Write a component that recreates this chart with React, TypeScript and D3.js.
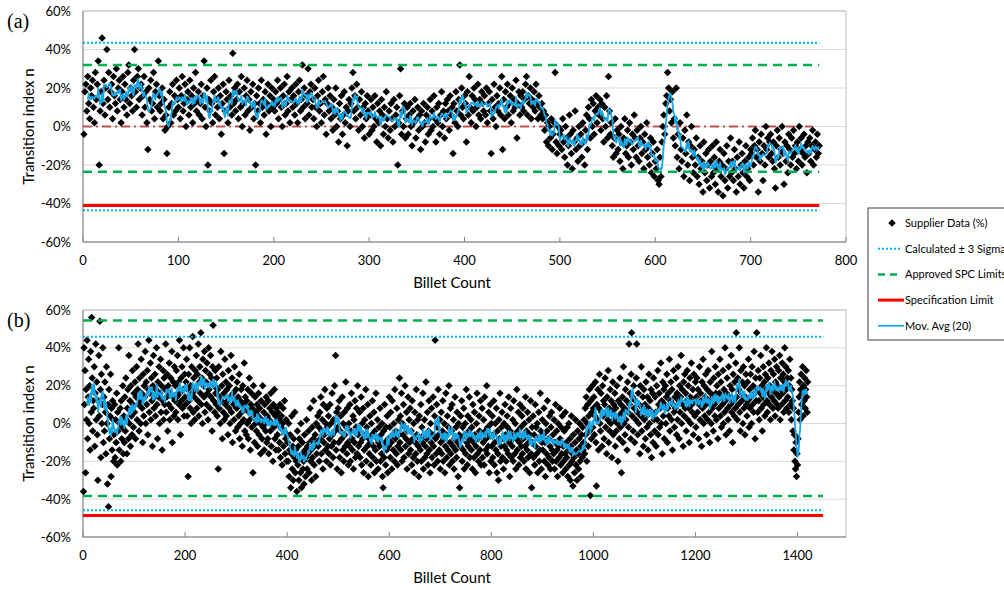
import React from "react";
import * as d3 from "d3";

// transition index n (%) per billet (estimated where dots overlap)
const aSupplier = [
  -4, 18, 22, 8, 26, 12, 4, 20, 16, 24, 10, 2, 28, 14, 22, 34, -20, 8, 18, 46,
  12, 24, 6, 20, 40, 14, 28, 10, 18, 22, 4, 26, 16, 12, 30, 8, 20, 24, 14, 2,
  18, 26, 10, 22, 14, 6, 28, 32, 12, 20, 16, 8, 24, 40, 18, 10, 26, 30, 14, 20,
  22, 6, 16, 26, 10, 18, 2, -12, 20, 14, 24, 8, 12, 28, 4, 18, 22, 10, 34, 16,
  8, 12, 20, 4, 14, -2, 6, -14, 0, 10, 18, 2, 12, 22, 6, 16, 8, 24, 14, 10,
  20, 4, 16, 26, 8, 12, 22, 0, 14, 18, 6, 24, 10, 16, 2, 20, 12, 28, 8, 14,
  18, 6, 12, 22, 4, 16, 34, 10, 0, 20, -20, 14, 8, 24, 12, 2, 18, 26, 6, 14,
  10, 20, 4, 16, -4, 12, 22, -14, 8, 18, 14, 2, 24, 10, 16, 6, 38, 12, 20, 8,
  14, 22, 4, 18, 10, 26, 0, 12, 20, 6, 16, 24, 8, 14, -2, 18, 10, 22, 4, 12,
  -20, 16, 8, 20, 12, 2, 24, 10, 14, 6, 18, -4, 12, 22, 8, 16, 0, 20, 10, 14,
  8, 18, 12, 24, 4, 14, 20, 10, 0, 16, 22, 6, 12, 26, 8, 18, 2, 14, 20, 10,
  16, 6, 22, 12, 2, 18, 24, 8, 14, 32, 10, 20, 4, 16, 12, 30, 6, 18, 22, 10,
  14, 4, 20, 10, 0, 16, 24, 8, 12, 2, 18, 26, 6, 14, -4, 12, 20, 8, 16, 4,
  10, -2, 14, 6, 20, 0, 8, -8, 12, 4, 16, -4, 6, 18, 2, 10, -10, 8, 14, 0,
  12, 20, 28, 8, 16, 4, 22, 10, -2, 14, 6, 18, 0, 10, -6, 12, 4, 16, 8, -4,
  6, 14, -2, 10, 0, 16, 4, -8, 12, 2, 8, -10, 14, 6, -4, 10, 0, 18, 4, -6,
  8, -2, 12, 4, -8, 14, 0, 6, 10, -20, 2, 16, 30, -4, 8, 0, 12, -6, 4, 10,
  -4, 6, 12, 0, -10, 8, 2, 14, -6, 4, 10, -2, 6, -12, 8, 0, 12, 2, -8, 6,
  10, -4, 4, 14, -2, 8, 0, 16, 4, -8, 10, 2, 12, -4, 6, 18, 0, 8, -6, 12,
  4, 14, 8, -2, 16, 6, 10, -14, 12, 2, 18, 8, 0, 14, 32, 6, 20, 10, 4, 16,
  12, -8, 18, 6, 26, 10, 2, 16, 8, 20, 14, 0, 10, 22, 6, 14, 4, 18, 12, 8,
  16, 6, 20, 2, 12, 18, 8, -14, 14, 4, 22, 10, 0, 16, 8, 12, 20, 6, 26, -12,
  14, 4, 18, 10, 22, 6, 12, 16, 2, 20, 8, 14, 10, 24, -6, 12, 18, 6, 16, 10,
  18, 8, 14, 22, 26, 6, 16, 12, 20, 4, 14, 10, 18, 8, 22, 12, 4, 16, 10, 6,
  12, 4, 8, -2, 6, -8, 2, -10, 0, -6, 4, -12, -4, 2, 28, -8, -14, 0, -10, -4,
  -2, -12, 4, -8, -16, 0, -6, -20, -10, 6, -4, -14, -22, -2, -8, 8, -12, -6, -18, 0,
  -10, -4, -16, 2, -8, -20, -2, 6, -12, 10, 4, -6, 14, 0, 12, -4, 8, 16, 2, 10,
  6, 14, -2, 12, 4, -8, 10, 0, 16, -6, 26, 8, -4, 2, -10, -16, -6, 4, -14, -2,
  -12, -4, -18, 0, -8, -22, -6, 4, -14, -10, -2, -16, 2, -8, -20, -4, -12, 6, -6, -16,
  -2, -10, -18, -6, 0, -14, -8, -22, -4, -12, 2, -16, -10, -20, -6, -24, -14, -8, -26, -18,
  -22, -12, -28, -30, -16, -26, -8, 0, 6, -4, 12, 16, 28, 20, 8, 14, 2, 18, -6, 4,
  -10, 20, -16, -4, -22, 2, -12, -18, -6, -26, -2, -14, 6, -20, -8, -28, -10, 0, -16, -24,
  -12, -20, -6, -26, -16, -30, -10, -22, -18, -34, -8, -24, -14, -28, -20, -12, -32, -18, -26, -10,
  -24, -16, -30, -8, -22, -34, -18, -12, -26, -20, -36, -14, -28, -22, -10, -32, -18, -26, -6, -24,
  -18, -28, -12, -22, -34, -16, -26, -8, -30, -20, -14, -24, -32, -18, -10, -26, -22, -16, -28, -12,
  -14, -6, -20, -10, -2, -16, -12, -34, -8, -18, -4, -14, -28, -10, -20, 0, -12, -6, -16, -8,
  -4, -14, -18, -8, -22, -32, -10, -2, -16, -6, -20, -12, 0, -14, -30, -8, -18, -10, -24, -4,
  -12, -20, -6, -16, -2, -14, -10, -22, -8, -18, 0, -12, -6, -20, -14, -4, -16, -10, -24, -8,
  -14, -6, -18, -10, -2, -20, -12, -8, -16, -4, -14, -10,
];

const bSupplier = [
  -36, 40, 10, 28, -26, 18, 2, 44, -8, 14, 34, 0, 20, -14, 38, 6, 56, 24, -4, 12,
  8, 30, -12, 16, 42, 2, 22, -6, -30, 12, 36, 4, 54, 18, -18, 26, 0, 10, 40, -10,
  14, -4, 22, 6, -16, 30, 0, -32, 10, -44, 18, -8, 4, 26, -28, 8, -14, 12, 2, -20,
  -6, 10, -18, 2, -10, 16, -22, 6, -4, 40, -14, 0, 8, -20, 12, -8, -2, 20, -16, 4,
  -10, 14, -4, 24, 2, -16, 8, 18, -8, 36, 0, 12, -12, 20, 4, -6, 28, 10, -2, 16,
  6, 22, -8, 14, 30, 2, 18, 42, 10, -4, 24, 12, 0, 34, 16, 8, -10, 26, 4, 20,
  14, 38, 0, 22, 10, 28, -6, 18, 44, 6, 16, 32, 2, 24, 12, -12, 20, 36, 8, 14,
  26, 4, 18, 40, 10, -8, 22, 14, 30, 0, 16, 34, 6, 20, -14, 12, 28, 2, 24, 10,
  18, 42, 6, 14, 26, -4, 20, 10, 32, 2, 16, 24, 8, 38, -10, 14, 22, 4, 30, 12,
  20, 6, 28, 14, 36, 2, 22, 10, 44, 16, -6, 24, 12, 30, 8, 18, 40, 4, 26, 14,
  10, 22, 34, 4, 18, -28, 26, 12, 40, 8, 20, 0, 30, 16, 46, 6, 24, 14, 2, 28,
  18, 36, 8, 26, 12, 42, 4, 22, 30, 16, 48, 10, 24, 0, 34, 20, 14, 38, 6, 28,
  22, 10, 32, 16, 2, 40, 18, 26, 8, 36, 14, 24, -4, 30, 52, 12, 20, 6, 28, 16,
  10, 24, 4, 18, -24, 30, 8, 14, 0, 38, 12, 20, -8, 26, 6, 16, 2, 34, 10, 22,
  4, 18, 12, -6, 28, 8, 20, 0, 14, 36, 6, 24, -10, 16, 10, 2, 30, 12, -4, 18,
  8, 22, -2, 14, 4, 26, -8, 12, 0, 18, 6, -12, 20, 10, 2, 32, -4, 14, 8, -6,
  12, 0, 18, -8, 6, 24, 2, -14, 10, 16, -2, 8, -26, 20, 4, -10, 14, 0, 6, -4,
  10, -12, 4, 16, -6, 8, 0, -16, 12, 2, -8, 20, -2, 6, -14, 10, 0, -4, 14, -10,
  4, -8, 12, -16, 2, 8, -4, 16, -12, 0, 6, -20, 10, -2, 18, -8, 4, -14, 8, 0,
  -6, 6, -14, 2, -10, 10, -18, -2, 4, -22, 0, 8, -12, -4, 12, -16, -8, 2, -20, -6,
  -10, -20, 0, -28, -14, -6, -34, -16, 4, -24, -12, -30, -8, -18, 6, -26, -14, -20, -36, -4,
  -22, -12, -30, -8, -18, -26, 0, -34, -16, -10, -24, -20, -32, -6, -14, -28, -18, 2, -24, -12,
  -16, -4, -26, -10, 8, -20, -14, -30, -2, -18, -8, 12, -22, -12, -6, -28, 0, -16, -10, 4,
  -12, -2, -20, 6, -8, 14, -16, -4, 2, -24, 10, -10, -6, 18, -14, 0, -20, 8, -2, -12,
  4, -16, -8, 10, -22, 0, -12, 16, -6, -18, 2, -10, 20, -4, 36, -14, 6, -24, -2, 8,
  -10, 12, -18, -4, 4, -26, -8, 14, -14, 0, -20, 6, -6, -12, 22, -2, -16, 8, -10, -22,
  0, -12, 10, -20, -4, 16, -8, -14, 4, -24, 2, -10, 12, -18, -2, 8, -16, 20, -6, -12,
  -4, 6, -18, -10, 14, -22, 0, -8, 8, -26, -14, 2, -6, 18, -20, -2, -12, 10, -28, -8,
  -16, 4, -10, -22, 0, -6, 12, -18, -12, 6, -26, -4, -14, 16, -20, -8, 2, -24, -10, -2,
  -12, 8, -20, -6, -16, 0, -28, -34, -4, -18, 10, -10, -22, -2, -14, 4, -26, -8, -12, 14,
  -2, -18, 6, -10, -24, 12, -6, -14, 0, -20, 18, -8, -4, -16, 8, -22, -12, 2, -6, 24,
  -10, 4, -14, 16, -20, 0, -6, 10, -18, -2, 20, -12, -8, 6, -24, -4, 14, -16, 2, -10,
  8, -14, -4, -22, 12, -8, -18, 0, -26, 6, -10, -16, 18, -6, -20, 2, -12, -28, 4, -8,
  -14, 10, -20, -2, -10, 16, -24, -6, 2, -18, -12, 22, -8, -16, 6, -22, -4, 12, -14, -26,
  0, -10, 8, -18, -6, 14, -12, -22, 4, 44, -8, -16, 10, -2, -20, 18, -6, -14, 2, -24,
  -10, 6, -16, -4, 12, -20, -8, 0, -26, -12, 16, -6, -18, 4, -14, -2, 20, -22, -10, 8,
  -16, -4, 10, -20, -12, 2, -24, -8, 14, -14, -2, -18, 6, -10, -28, 0, -6, -34, -12, 4,
  -8, 12, -20, -2, -14, 8, -24, -6, 0, -16, 18, -10, -22, 4, -12, -4, 14, -18, -8, 2,
  -14, -2, -24, 10, -10, -18, 6, -6, -26, -12, 0, 16, -16, -8, -20, 4, -4, -14, 12, -22,
  -6, 8, -18, -10, 2, -22, 14, -4, -14, -8, 20, -16, -2, -12, 6, -26, -6, 10, -20, 0,
  -12, 4, -18, -6, 12, -22, -10, 0, -14, 8, -26, -4, -16, -30, 2, -8, 16, -20, -12, -2,
  6, -18, -8, -24, 0, -12, 10, -6, -20, -14, 4, -2, -16, 14, -10, -28, -4, 8, -18, -8,
  -12, 2, -20, 12, -6, -16, 0, -24, -8, 18, -14, -4, 6, -22, -10, 10, -18, -2, -12, 4,
  -16, 8, -8, -20, 0, -12, 14, -24, -4, -14, 6, -18, -10, 2, -26, -6, 12, -16, -34, -2,
  -10, 4, -18, -6, -22, 10, -12, -2, -16, 0, -26, -8, 6, -20, -14, 16, -4, -24, -10, 2,
  -14, -6, 8, -20, -10, -28, 0, -16, -4, 12, -22, -8, -18, 4, -12, -24, -2, 6, -14, -20,
  -6, -16, 2, -24, -10, 10, -20, -4, -14, -28, 0, -12, -18, 8, -8, -22, -2, -16, 4, -26,
  -12, -20, -4, -16, 6, -24, -10, -18, -2, -28, -14, 0, -22, -8, -30, -12, 4, -20, -16, -33,
  -6, -18, -26, -10, 2, -22, -14, -30, -4, -16, -24, -8, 0, -20, -12, -28, -6, -18, -2, -14,
  -10, 2, -16, 8, -6, 14, -20, 0, 10, -12, 4, 18, -4, -38, 12, -8, 6, 20, -2, 8,
  14, -6, 4, 22, -10, -33, 10, 2, 18, -14, 8, 26, 0, -4, 16, 6, -12, 20, 4, 12,
  -8, 10, 24, -2, 6, -16, 14, 2, 28, -10, 8, -4, 18, 0, 12, -18, 6, 22, -6, 10,
  2, 16, -12, 8, -4, 20, 0, -20, 12, 4, -8, 24, -2, 10, -26, 6, 14, -10, 30, 0,
  8, -6, 18, 2, 12, -14, 22, 6, -2, 42, 10, 16, -8, 26, 48, 4, 14, -4, 20, 8,
  -10, 12, 2, 24, 42, 6, -6, 16, 0, 10, -16, 20, 4, 30, -4, 8, 14, -12, 18, 2,
  10, -8, 22, 4, -2, 14, -14, 8, 26, 0, 12, -6, 18, -18, 6, 16, -10, 24, 2, -4,
  14, 6, -12, 20, 2, 28, -6, 10, 16, -2, 8, 32, 0, 12, -16, 22, 4, 18, -8, 10,
  20, 0, 14, 26, -10, 8, 16, 4, 34, -4, 12, 22, 2, 18, -14, 10, 28, 6, -2, 14,
  8, 24, -6, 16, 2, 30, 12, -8, 20, 6, 14, 36, 0, 18, 10, -12, 22, 4, 26, 8,
  16, -4, 12, 28, 2, 20, 8, -10, 24, 14, 0, 32, 10, 6, 18, -6, 26, 12, 4, 22,
  -2, 14, 24, 6, 18, -8, 10, 30, 2, 16, 12, -12, 22, 8, 34, 0, 20, 4, 14, 26,
  10, -6, 18, 2, 28, 12, 6, -10, 22, 16, 0, 38, 8, 14, -4, 24, 10, 4, 30, 16,
  2, 20, 12, -8, 26, 8, 16, 34, 4, 22, -2, 14, 10, 28, 0, 18, 6, 40, 12, -6,
  16, 24, 8, 2, 30, 14, -4, 20, 10, 36, 6, 18, -10, 26, 12, 4, 22, 8, 32, 48,
  14, 2, 24, 10, 18, 40, 6, -4, 28, 16, 12, 22, 0, 30, 8, 20, -6, 14, 26, 10,
  4, 22, 12, 34, -2, 18, 8, 26, 14, 0, 30, 10, 20, 6, 38, 16, -8, 24, 12, 48,
  18, 6, 28, 12, 2, 24, 16, 36, 8, 20, -4, 14, 30, 10, 22, 4, 26, 18, 40, 12,
  6, 24, 16, 32, 10, 20, 2, 28, 14, 38, 18, 8, 26, 12, 34, 4, 22, 16, 30, 10,
  20, 8, 28, 14, 36, 2, 24, 18, 10, 32, 16, 26, 6, 22, 40, 12, 30, 18, 8, 24,
  14, 28, 6, 20, 34, 10, 24, 2, 18, 12, -4, 8, -14, -6, -20, -24, -10, -28, -16, -22,
  -8, 6, 14, 22, 2, 18, 26, 10, 16, 30, 4, 20, 12, 24, 8, 18, 28, 14, 6, 22,
];

// control lines (%)
const aSigma = [43.5, -43.5];
const aSpc = [32, -23.5];
const aSpec = [-41];
const aMean = [0];
const bSigma = [45.8, -45.8];
const bSpc = [54.5, -38.3];
const bSpec = [-48.6];

const yTicks = [60, 40, 20, 0, -20, -40, -60];
const aXTicks = [0, 100, 200, 300, 400, 500, 600, 700, 800];
const bXTicks = [0, 200, 400, 600, 800, 1000, 1200, 1400];

const legendItems = [
  "Supplier Data (%)",
  "Calculated \u00b1 3 Sigma",
  "Approved SPC Limits",
  "Specification Limit",
  "Mov. Avg (20)",
];

const FONT = "Lato, 'Open Sans', sans-serif";
const BLUE = "#1AA6E4";
const GREEN = "#00B050";
const RED = "#FF0000";

const diamond = d3.symbol().type(d3.symbolSquare).size(28)() as string;

// trailing moving average
function movAvg(v: number[], w: number) {
  return v.map((_, i) => (i < w - 1 ? null : (d3.mean(v.slice(i - w + 1, i + 1)) as number)));
}

type PanelProps = {
  label: string;
  top: number;
  bottom: number;
  xMax: number;
  xTicks: number[];
  values: number[];
  win: number;
  sigma: number[];
  spc: number[];
  spec: number[];
  mean?: number[];
  lineEnd: number;
  meanEnd?: number;
};

const Panel = ({ label, top, bottom, xMax, xTicks, values, win, sigma, spc, spec, mean, lineEnd, meanEnd }: PanelProps) => {
  const left = 83;
  const right = 846;
  const x = d3.scaleLinear().domain([0, xMax]).range([left, right]);
  const y = d3.scaleLinear().domain([-60, 60]).range([bottom, top]);

  const ma = movAvg(values, win);
  const maLine = d3
    .line<number | null>()
    .defined((d) => d !== null)
    .x((_, i) => x(i + 1))
    .y((d) => y(d as number));

  const hline = (v: number, end: number, stroke: string, width: number, dash?: string) => (
    <line x1={x(0)} x2={x(end)} y1={y(v)} y2={y(v)} stroke={stroke} strokeWidth={width} strokeDasharray={dash} />
  );

  return (
    <g>
      <text x={7} y={top + 17} fontFamily="'Liberation Serif', 'Times New Roman', serif" fontSize={20}>
        {label}
      </text>
      {/* grid */}
      {yTicks.map((t) => (
        <line key={t} x1={left} x2={right} y1={y(t)} y2={y(t)} stroke="#D9D9D9" strokeWidth={1} />
      ))}
      <rect x={left} y={top} width={right - left} height={bottom - top} fill="none" stroke="#BFBFBF" />
      <line x1={left} x2={left} y1={top} y2={bottom} stroke="#868686" />
      <line x1={left} x2={right} y1={bottom} y2={bottom} stroke="#868686" />
      {xTicks.map((t) => (
        <line key={t} x1={x(t)} x2={x(t)} y1={bottom} y2={bottom - 5} stroke="#868686" />
      ))}
      {yTicks.map((t) => (
        <text key={t} x={71} y={y(t) + 4.5} textAnchor="end" fontFamily={FONT} fontSize={13} fill="#000">
          {`${t}%`}
        </text>
      ))}
      {xTicks.map((t) => (
        <text key={t} x={x(t)} y={bottom + 23} textAnchor="middle" fontFamily={FONT} fontSize={13}>
          {t}
        </text>
      ))}
      <text x={452} y={bottom + 46} textAnchor="middle" fontFamily={FONT} fontSize={15}>
        Billet Count
      </text>
      <text
        transform={`translate(34,${(top + bottom) / 2}) rotate(-90)`}
        textAnchor="middle"
        fontFamily={FONT}
        fontSize={15}
      >
        Transition index n
      </text>

      {mean && mean.map((m, i) => <g key={i}>{hline(m, meanEnd ?? lineEnd, "#C0504D", 2, "9,4,2,4")}</g>)}

      {values.map((v, i) => (
        <path key={i} d={diamond} transform={`translate(${x(i + 1)},${y(v)}) rotate(45)`} fill="#000" />
      ))}

      {sigma.map((s, i) => <g key={i}>{hline(s, lineEnd, "#00B0F0", 2, "2,2")}</g>)}
      {spc.map((s, i) => <g key={i}>{hline(s, lineEnd, GREEN, 2.5, "9,6")}</g>)}
      {spec.map((s, i) => <g key={i}>{hline(s, lineEnd, RED, 3)}</g>)}

      <path d={maLine(ma) ?? ""} fill="none" stroke={BLUE} strokeWidth={1.8} strokeLinejoin="round" />
    </g>
  );
};

const Legend = () => {
  const lx = 868;
  const ly = 208;
  const rowY = (i: number) => ly + 15 + i * 25.7;
  return (
    <g>
      <rect x={lx} y={ly} width={150} height={132} fill="#fff" stroke="#404040" strokeWidth={1} />
      <path d={diamond} transform={`translate(892,${rowY(0)}) rotate(45)`} fill="#000" />
      <line x1={878} x2={902} y1={rowY(1)} y2={rowY(1)} stroke="#00B0F0" strokeWidth={2} strokeDasharray="2,2" />
      <line x1={878} x2={902} y1={rowY(2)} y2={rowY(2)} stroke={GREEN} strokeWidth={2.5} strokeDasharray="7,5" />
      <line x1={878} x2={904} y1={rowY(3)} y2={rowY(3)} stroke={RED} strokeWidth={3} />
      <line x1={878} x2={904} y1={rowY(4)} y2={rowY(4)} stroke={BLUE} strokeWidth={1.8} />
      {legendItems.map((t, i) => (
        <text key={t} x={905} y={rowY(i) + 4} fontFamily={FONT} fontSize={11}>
          {t}
        </text>
      ))}
    </g>
  );
};

export default function App() {
  return (
    <svg
      width={1004}
      height={590}
      style={{ position: "absolute", left: 0, top: 0, background: "#fff" }}
    >
      <rect width={1004} height={590} fill="#fff" />
      <Panel
        label="(a)"
        top={11}
        bottom={242}
        xMax={800}
        xTicks={aXTicks}
        values={aSupplier}
        win={5}
        sigma={aSigma}
        spc={aSpc}
        spec={aSpec}
        mean={aMean}
        lineEnd={772}
        meanEnd={765}
      />
      <Panel
        label="(b)"
        top={310}
        bottom={537}
        xMax={1495}
        xTicks={bXTicks}
        values={bSupplier}
        win={8}
        sigma={bSigma}
        spc={bSpc}
        spec={bSpec}
        lineEnd={1450}
      />
      <Legend />
    </svg>
  );
}
